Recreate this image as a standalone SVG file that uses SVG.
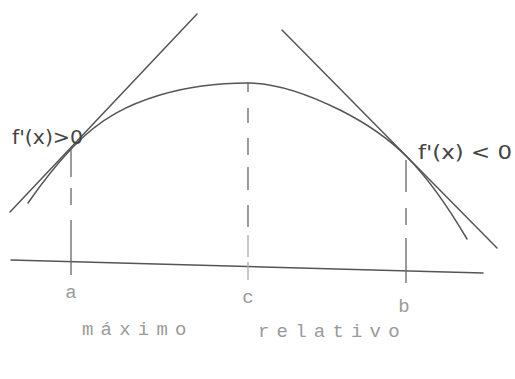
<svg xmlns="http://www.w3.org/2000/svg" width="515" height="379" viewBox="0 0 515 379">
<style>
.ln{stroke:#555;stroke-width:1.5;fill:none;stroke-linecap:round}
.ds{stroke:#666;stroke-width:1.3;fill:none}
.hw{font-family:"DejaVu Sans",sans-serif;fill:#444;font-size:20px}
.tt{font-family:"Liberation Mono",monospace;fill:#9a9a9a;font-size:19px}
</style>
<rect width="515" height="379" fill="#fff"/>
<g id="curve">
<path class="ln" d="M28,203 C42.7,181.7 57.3,163.6 72,148 C101.3,116.9 130.7,103.8 160,95 C189.3,86.2 218.7,83 248,83 C278.7,83 309.3,94.7 340,110 C362.3,121.2 384.7,134.4 407,157 C427,177.2 447,205 467,239"/>
</g>
<g id="tangent-left"><line class="ln" x1="10" y1="212" x2="197" y2="14"/></g>
<g id="tangent-right"><line class="ln" x1="282" y1="30" x2="497" y2="248"/></g>
<g id="axis"><line class="ln" x1="11" y1="260" x2="483" y2="273"/></g>
<g id="connectors">
<g id="dash-a" class="ds">
<line x1="71" y1="148" x2="71" y2="177"/><line x1="71" y1="188" x2="71" y2="205"/><line x1="71" y1="220" x2="71" y2="275"/>
</g>
<g id="dash-c" class="ds">
<line x1="248" y1="82" x2="248" y2="92"/><line x1="248" y1="108" x2="248" y2="123"/><line x1="248" y1="138" x2="248" y2="155"/><line x1="248" y1="167" x2="248" y2="190"/><line x1="248" y1="205" x2="248" y2="227"/><line x1="248" y1="235" x2="248" y2="257" stroke="#aaa"/><line x1="248" y1="262" x2="248" y2="280" stroke="#aaa"/>
</g>
<g id="dash-b" class="ds">
<line x1="406" y1="160" x2="406" y2="192"/><line x1="406" y1="208" x2="406" y2="225"/><line x1="406" y1="238" x2="406" y2="283"/>
</g>
</g>
<g id="label-fpos"><text class="hw" x="12" y="144" textLength="71" lengthAdjust="spacingAndGlyphs">f'(x)&gt;0</text></g>
<g id="label-fneg"><text class="hw" x="418" y="159" textLength="94" lengthAdjust="spacingAndGlyphs">f'(x) &lt; 0</text></g>
<g id="label-a"><text class="tt" x="71" y="298" text-anchor="middle">a</text></g>
<g id="label-c"><text class="tt" x="248" y="303" text-anchor="middle">c</text></g>
<g id="label-b"><text class="tt" x="404" y="312" text-anchor="middle">b</text></g>
<g id="caption">
<text class="tt" x="82" y="335" letter-spacing="7.2">máximo</text>
<text class="tt" x="258" y="337" letter-spacing="7.2">relativo</text>
</g>
</svg>
